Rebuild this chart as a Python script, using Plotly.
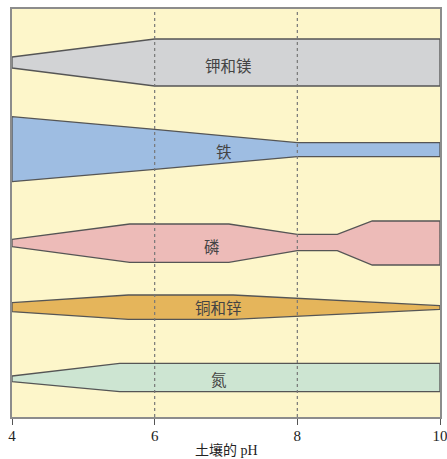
import plotly.graph_objects as go

# Nutrient availability bands vs soil pH (y in arbitrary availability units)
kmg_ph = [4, 6, 10]
kmg_top = [360, 378, 378]
kmg_bot = [349, 331, 331]

fe_ph = [4, 6, 8, 10]
fe_top = [300.3, 287.7, 274.3, 274.3]
fe_bot = [235.3, 247.7, 260.3, 260.3]

p_ph = [4, 5.65, 7.04, 8.0, 8.56, 9.05, 10]
p_top = [177.7, 193, 193, 182.7, 182.7, 196, 196]
p_bot = [170.3, 154.7, 154.7, 166.3, 166.3, 152, 152]

cuzn_ph = [4, 5.63, 7.1, 10]
cuzn_top = [114.3, 122, 122, 111.3]
cuzn_bot = [105.3, 97.7, 97.7, 107.7]

n_ph = [4, 5.51, 10]
n_top = [41, 53.7, 53.7]
n_bot = [35.3, 25.3, 25.3]

labels = ["钾和镁", "铁", "磷", "铜和锌", "氮"]
label_ph = [7.03, 6.97, 6.8, 6.9, 6.9]
label_y = [352, 266.5, 171.5, 110, 38]

tick_vals = [4, 6, 8, 10]
tick_text = ["4", "6", "8", "10"]
ref_lines = [6, 8]
x_title = "土壤的 pH"

bands = [
    (kmg_ph, kmg_top, kmg_bot, "#D2D3D5"),
    (fe_ph, fe_top, fe_bot, "#9EBDE2"),
    (p_ph, p_top, p_bot, "#EDBBB8"),
    (cuzn_ph, cuzn_top, cuzn_bot, "#E5B55B"),
    (n_ph, n_top, n_bot, "#CDE5D2"),
]

fig = go.Figure()
for ph, top, bot, col in bands:
    xs = list(ph) + list(ph)[::-1] + [ph[0]]
    ys = list(top) + list(bot)[::-1] + [top[0]]
    fig.add_trace(go.Scatter(
        x=xs, y=ys, mode="lines", fill="toself", fillcolor=col,
        line=dict(color="#555555", width=1.3), hoverinfo="skip", showlegend=False))

for v in ref_lines:
    fig.add_shape(type="line", xref="x", yref="paper", x0=v, x1=v, y0=0, y1=1,
                  line=dict(color="#777777", width=1.2, dash="dot"), layer="above")

for t, xv, yv in zip(labels, label_ph, label_y):
    fig.add_annotation(x=xv, y=yv, text=t, showarrow=False,
                       font=dict(family="Noto Sans CJK SC", size=15.5, color="#444444"))

fig.add_annotation(x=0.5, y=-0.081, xref="paper", yref="paper", text=x_title,
                   showarrow=False, yanchor="middle",
                   font=dict(family="Liberation Serif, Noto Sans CJK SC", size=14, color="#222222"))

fig.update_layout(
    width=447, height=459,
    margin=dict(l=12, r=7, t=9, b=42, autoexpand=False),
    paper_bgcolor="white", plot_bgcolor="#FDF6CA",
    showlegend=False,
)
fig.update_xaxes(
    range=[4, 10], tickvals=tick_vals, ticktext=tick_text, automargin=False,
    ticklabeloverflow="allow", ticklabelstandoff=-2,
    showgrid=False, zeroline=False,
    showline=True, mirror=True, linecolor="#8C8C8C", linewidth=2,
    ticks="outside", ticklen=6, tickcolor="#555555", tickwidth=1.2,
    tickfont=dict(family="Liberation Serif", size=15, color="#222222"),
)
fig.update_yaxes(
    range=[0, 408], showticklabels=False, showgrid=False, zeroline=False, automargin=False,
    showline=True, mirror=True, linecolor="#8C8C8C", linewidth=2, ticks="",
)

fig.write_html("out.html", config={"displayModeBar": False},
               post_script="document.body.style.margin='0';document.body.style.overflow='hidden';")
